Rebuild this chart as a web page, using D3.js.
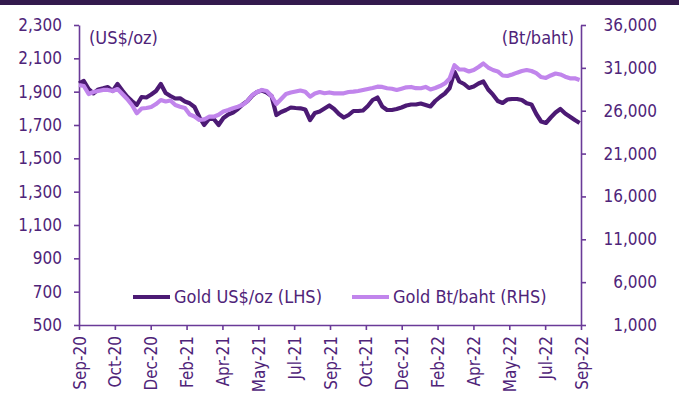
<!DOCTYPE html>
<html>
<head>
<meta charset="UTF-8">
<script src="https://d3js.org/d3.v7.min.js"></script>
<style>
  body { margin: 0; background: #fff; }
  svg text { font-family: "DejaVu Sans Condensed", "DejaVu Sans", sans-serif; fill: #4f2479; }
</style>
</head>
<body>
<svg width="684" height="405"></svg>
<script>
// weekly readings (Mondays, 7 Sep 2020 .. 5 Sep 2022)
var goldUsd = [1950,1964,1916,1890,1913,1920,1928,1904,1946,1907,
  1871,1844,1820,1868,1865,1883,1904,1946,1892,1874,
  1859,1860,1841,1830,1808,1748,1700,1736,1736,1700,
  1742,1763,1775,1796,1823,1844,1877,1898,1907,1895,
  1874,1760,1778,1790,1805,1802,1800,1793,1730,1772,
  1781,1799,1817,1796,1766,1745,1760,1784,1784,1787,
  1814,1850,1865,1811,1790,1790,1796,1805,1817,1823,
  1823,1829,1820,1811,1844,1868,1889,1922,2020,1961,
  1946,1922,1931,1949,1961,1913,1882,1844,1832,1853,
  1856,1856,1850,1830,1823,1766,1721,1712,1745,1775,
  1796,1769,1750,1730,1712];

var goldThb = [29000,28880,27950,28180,28300,28420,28420,28300,28530,27950,
  27370,26670,25700,26260,26320,26430,26780,27250,27080,27190,
  26670,26470,26320,25560,25330,24920,24980,25300,25300,25520,
  25910,26080,26290,26470,26690,27130,27830,28180,28420,28300,
  27720,26780,27370,27950,28130,28240,28360,28220,27640,28010,
  28180,28040,28130,28030,28030,28030,28180,28220,28300,28420,
  28530,28650,28800,28770,28620,28560,28420,28570,28730,28770,
  28630,28620,28770,28480,28650,28880,29180,29760,31300,30810,
  30810,30580,30750,31100,31510,31040,30750,30580,30110,30050,
  30230,30440,30630,30750,30630,30380,29930,29820,30110,30340,
  30230,29970,29780,29780,29580];

var leftTicks = [500,700,900,1100,1300,1500,1700,1900,2100,2300];
var rightTicks = [1000,6000,11000,16000,21000,26000,31000,36000];
var seriesNames = ["Gold US$/oz (LHS)", "Gold Bt/baht (RHS)"];

var dates = d3.timeMonday.range(new Date(2020, 8, 7), new Date(2022, 8, 6));
var start = new Date(2020, 8, 7), end = new Date(2022, 8, 7);

var darkCol = "#4c1a74", lightCol = "#c185ec", axisCol = "#6a3a98";

var svg = d3.select("svg");

// header strip
svg.append("rect").attr("x", 0).attr("y", 0).attr("width", 679).attr("height", 5).attr("fill", "#331a4d");

var x = d3.scaleTime().domain([start, end]).range([79, 581]);
var yL = d3.scaleLinear().domain([500, 2300]).range([325, 25]);
var yR = d3.scaleLinear().domain([1000, 36000]).range([325, 25]);

var xTicks = d3.range(15).map(function(i) {
  return new Date(+start + i * (end - start) / 14);
});

var gx = svg.append("g").attr("transform", "translate(0,325)")
  .call(d3.axisBottom(x).tickValues(xTicks).tickFormat(d3.timeFormat("%b-%y")).tickSize(5).tickSizeOuter(0));
gx.selectAll("text")
  .attr("transform", "rotate(-90)")
  .attr("text-anchor", "end")
  .attr("x", -11).attr("y", 0).attr("dy", "0.36em");

var gl = svg.append("g").attr("transform", "translate(79,0)")
  .call(d3.axisLeft(yL).tickValues(leftTicks).tickFormat(d3.format(",")).tickSize(5).tickSizeOuter(0).tickPadding(12));

var gr = svg.append("g").attr("transform", "translate(581,0)")
  .call(d3.axisRight(yR).tickValues(rightTicks).tickFormat(d3.format(",")).tickSize(5).tickSizeOuter(0));
gr.selectAll("text").attr("text-anchor", "end").attr("x", 76);

[gx, gl, gr].forEach(function(g) {
  g.selectAll("path, line").attr("stroke", axisCol).attr("stroke-width", 1.6);
  g.selectAll("text").style("font-size", "17px").attr("fill", "#4f2479");
});

var lineUsd = d3.line().x(function(d, i) { return x(dates[i]); }).y(function(d) { return yL(d); });
var lineThb = d3.line().x(function(d, i) { return x(dates[i]); }).y(function(d) { return yR(d); });

svg.append("path").datum(goldUsd).attr("d", lineUsd)
  .attr("fill", "none").attr("stroke", darkCol).attr("stroke-width", 4.2).attr("stroke-linejoin", "round");
svg.append("path").datum(goldThb).attr("d", lineThb)
  .attr("fill", "none").attr("stroke", lightCol).attr("stroke-width", 4.2).attr("stroke-linejoin", "round");

// unit labels
svg.append("text").attr("x", 89).attr("y", 44).style("font-size", "18px").text("(US$/oz)");
svg.append("text").attr("x", 574).attr("y", 44).attr("text-anchor", "end").style("font-size", "18px").text("(Bt/baht)");

// legend
var legend = [
  {name: seriesNames[0], col: darkCol, x0: 133},
  {name: seriesNames[1], col: lightCol, x0: 352}
];
var lg = svg.selectAll("g.leg").data(legend).enter().append("g").attr("class", "leg");
lg.append("line")
  .attr("x1", function(d) { return d.x0; }).attr("x2", function(d) { return d.x0 + 37; })
  .attr("y1", 297).attr("y2", 297)
  .attr("stroke", function(d) { return d.col; }).attr("stroke-width", 4);
lg.append("text")
  .attr("x", function(d) { return d.x0 + 41; }).attr("y", 303)
  .style("font-size", "18px")
  .text(function(d) { return d.name; });
</script>
</body>
</html>
